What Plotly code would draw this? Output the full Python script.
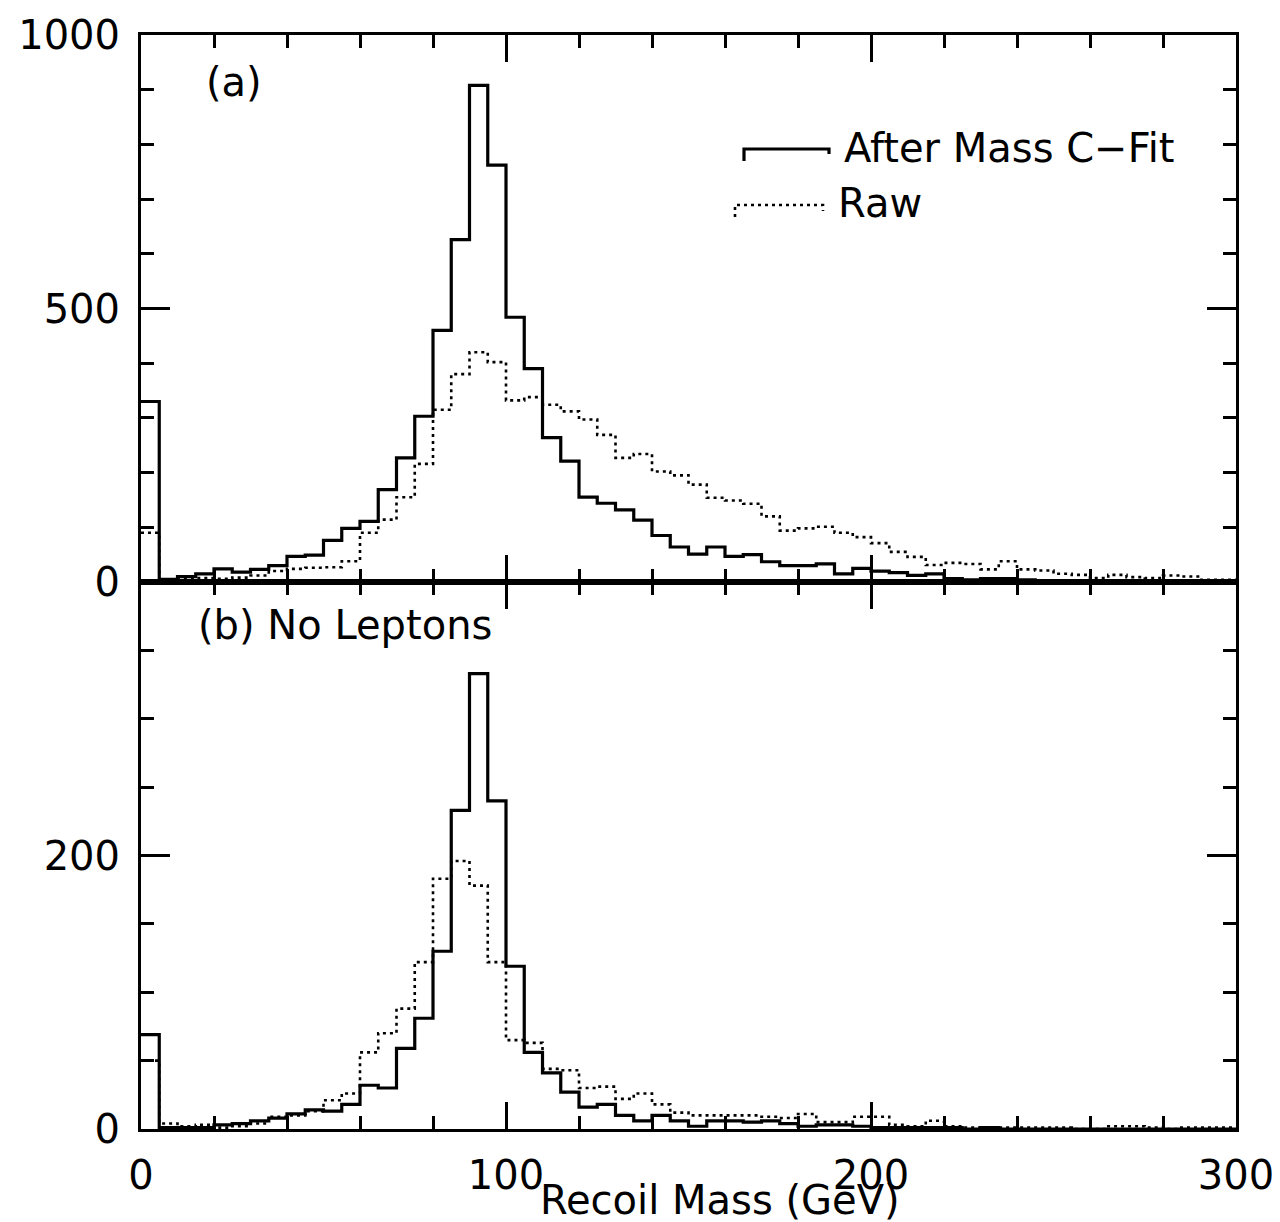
import plotly.graph_objects as go

# ---------------- data (5 GeV bins, 0-300 GeV) ----------------
bin_edges = list(range(0, 305, 5))

top_fit = [330, 5, 10, 15, 24, 18, 23, 30, 47, 49,
           76, 98, 111, 169, 227, 303, 460, 626, 908, 762,
           484, 390, 264, 221, 155, 144, 132, 113, 85, 64,
           51, 64, 47, 50, 37, 30, 30, 33, 15, 25,
           20, 17, 12, 15, 6, 4, 6, 6, 4, 2,
           1, 1, 1, 0, 1, 0, 0, 0, 0, 0]

top_raw = [90, 4, 6, 7, 6, 8, 12, 20, 24, 26,
           27, 38, 90, 114, 155, 216, 315, 380, 420, 402,
           332, 338, 324, 312, 297, 269, 227, 234, 202, 195,
           178, 154, 149, 143, 120, 94, 98, 101, 90, 82,
           71, 55, 46, 31, 35, 33, 23, 38, 23, 21,
           15, 13, 7, 13, 9, 7, 12, 10, 4, 4]

bot_fit = [69, 1, 1, 1, 3, 4, 6, 8, 11, 14,
           13, 18, 32, 30, 59, 81, 130, 233, 333, 240,
           119, 56, 41, 27, 16, 18, 10, 6, 10, 6,
           2, 6, 6, 5, 6, 4, 2, 3, 3, 2,
           1, 1, 1, 1, 1, 0, 1, 0, 0, 0,
           0, 0, 0, 0, 0, 0, 0, 0, 0, 0]

bot_raw = [50, 4, 2, 3, 1, 2, 4, 9, 10, 13,
           21, 26, 56, 70, 88, 122, 183, 196, 178, 122,
           65, 63, 44, 43, 30, 31, 22, 26, 18, 12,
           10, 10, 10, 10, 9, 8, 11, 5, 5, 9,
           9, 3, 2, 6, 2, 1, 1, 1, 1, 1,
           1, 0, 0, 2, 2, 1, 0, 1, 1, 1]

x_ticks = [0, 100, 200, 300]
x_ticklabels = ["0", "100", "200", "300"]
top_yticks = [0, 500, 1000]
top_yticklabels = ["0", "500", "1000"]
bot_yticks = [0, 200, 400]
bot_yticklabels = ["0", "200", ""]

label_fit = "After Mass C\u2212Fit"
label_raw = "Raw"

FONT = "DejaVu Sans"
FS = 40


def step_trace(vals, xaxis, yaxis, dotted):
    line = dict(color="black", width=2.6 if dotted else 3.2, shape="hv")
    if dotted:
        line["dash"] = "3px,4px"
    return go.Scatter(x=bin_edges, y=vals + [vals[-1]], mode="lines",
                      line=line, xaxis=xaxis, yaxis=yaxis, hoverinfo="skip",
                      showlegend=False)


fig = go.Figure()
fig.add_trace(step_trace(top_raw, "x2", "y2", True))
fig.add_trace(step_trace(top_fit, "x2", "y2", False))
fig.add_trace(step_trace(bot_raw, "x", "y", True))
fig.add_trace(step_trace(bot_fit, "x", "y", False))

common = dict(showline=True, linewidth=3, linecolor="black", mirror="ticks",
              ticks="inside", tickwidth=3, tickcolor="black",
              showgrid=False, zeroline=False, automargin=False,
              tickfont=dict(family=FONT, size=FS, color="black"))

fig.update_layout(
    width=1280, height=1222,
    margin=dict(l=133, r=52, t=27, b=101, autoexpand=False),
    paper_bgcolor="white", plot_bgcolor="white",
    showlegend=False,
    font=dict(family=FONT, size=FS, color="black"),
    xaxis=dict(domain=[0, 1], anchor="y", range=[0, 300],
               tickmode="array", tickvals=x_ticks, ticktext=x_ticklabels,
               ticklen=27, ticklabelstandoff=9,
               minor=dict(dtick=20, ticklen=13, tickwidth=3, ticks="inside",
                          tickcolor="black", showgrid=False),
               **common),
    xaxis2=dict(domain=[0, 1], anchor="y2", range=[0, 300], matches="x",
                tickmode="array", tickvals=x_ticks, showticklabels=False,
                ticklen=27,
                minor=dict(dtick=20, ticklen=13, tickwidth=3, ticks="inside",
                           tickcolor="black", showgrid=False),
                **common),
    yaxis=dict(domain=[0, 0.5], anchor="x", range=[0, 400],
               tickmode="array", tickvals=bot_yticks, ticktext=bot_yticklabels,
               ticklen=29, ticklabelstandoff=10,
               minor=dict(dtick=50, ticklen=13, tickwidth=3, ticks="inside",
                          tickcolor="black", showgrid=False),
               **common),
    yaxis2=dict(domain=[0.5, 1], anchor="x2", range=[0, 1000],
                tickmode="array", tickvals=top_yticks, ticktext=top_yticklabels,
                ticklen=29, ticklabelstandoff=10,
                minor=dict(dtick=100, ticklen=13, tickwidth=3, ticks="inside",
                           tickcolor="black", showgrid=False),
                **common),
)


def px2paper(px, py):
    return (px - 133) / 1095.0, (1121 - py) / 1094.0


annotations = []


def add_text(text, px, py, xanchor="left"):
    x, y = px2paper(px, py)
    annotations.append(dict(text=text, x=x, y=y, xref="paper", yref="paper",
                            xanchor=xanchor, yanchor="middle", showarrow=False,
                            font=dict(family=FONT, size=FS, color="black")))


add_text("(a)", 196, 74)
add_text("(b) No Leptons", 188, 617)
add_text(label_fit, 834, 140)
add_text(label_raw, 828, 195)
add_text("Recoil Mass (GeV)", 712, 1192, xanchor="center")
fig.update_layout(annotations=annotations)

# legend samples
shapes = []


def legend_path(x0, x1, y, yl, yr, dotted):
    a = px2paper(x0, yl)
    b = px2paper(x0, y)
    c = px2paper(x1, y)
    d = px2paper(x1, yr)
    path = f"M {a[0]},{a[1]} L {b[0]},{b[1]} L {c[0]},{c[1]} L {d[0]},{d[1]}"
    line = dict(color="black", width=2.6 if dotted else 3.2)
    if dotted:
        line["dash"] = "3px,4px"
    shapes.append(dict(type="path", path=path, xref="paper", yref="paper",
                       line=line))


legend_path(736, 821, 141, 153, 146, False)
legend_path(727, 815, 197, 209, 203, True)
fig.update_layout(shapes=shapes)

fig.write_html("out.html")
